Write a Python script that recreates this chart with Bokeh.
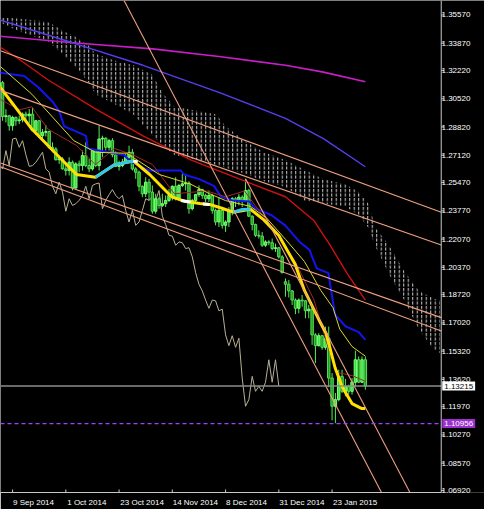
from bokeh.plotting import figure
from bokeh.models import (Range1d, FixedTicker, PrintfTickFormatter, Span, Label,
                          ColumnDataSource)
from bokeh.embed import file_html
from bokeh.resources import INLINE

# ---------------- data (EURUSD daily, bar index 0 = 2 Sep 2014) ----------------
opens = [1.3130,1.3132,1.3150,1.2945,1.2950,1.2890,1.2940,1.2920,1.2925,1.2960,
         1.2950,1.2960,1.2860,1.2920,1.2830,1.2850,1.2855,1.2760,1.2750,1.2685,
         1.2690,1.2630,1.2620,1.2670,1.2515,1.2660,1.2650,1.2710,1.2650,1.2630,
         1.2740,1.2650,1.2810,1.2815,1.2760,1.2800,1.2715,1.2645,1.2650,1.2670,
         1.2700,1.2730,1.2630,1.2610,1.2525,1.2480,1.2550,1.2490,1.2375,1.2450,
         1.2410,1.2420,1.2440,1.2470,1.2525,1.2450,1.2530,1.2540,1.2545,1.2390,
         1.2440,1.2475,1.2505,1.2470,1.2450,1.2470,1.2380,1.2310,1.2380,1.2290,
         1.2310,1.2380,1.2450,1.2440,1.2460,1.2440,1.2500,1.2345,1.2295,1.2230,
         1.2225,1.2170,1.2190,1.2185,1.2150,1.2155,1.2100,1.1950,1.1935,1.1895,
         1.1840,1.1790,1.1840,1.1835,1.1775,1.1785,1.1630,1.1565,1.1625,1.1555,
         1.1610,1.1370,1.1200,1.1240,1.1380,1.1290,1.1320,1.1290,1.1345,1.1480,
         1.1345,1.1480]
highs = [1.3150,1.3160,1.3160,1.2990,1.2955,1.2950,1.2945,1.2950,1.2970,1.2975,
         1.2990,1.3000,1.2925,1.2925,1.2870,1.2895,1.2860,1.2790,1.2760,1.2705,
         1.2700,1.2660,1.2700,1.2680,1.2670,1.2680,1.2740,1.2790,1.2690,1.2750,
         1.2745,1.2890,1.2830,1.2820,1.2810,1.2815,1.2735,1.2680,1.2690,1.2720,
         1.2770,1.2750,1.2640,1.2620,1.2530,1.2580,1.2570,1.2530,1.2480,1.2460,
         1.2480,1.2470,1.2510,1.2530,1.2580,1.2540,1.2600,1.2600,1.2555,1.2450,
         1.2480,1.2530,1.2510,1.2480,1.2500,1.2480,1.2390,1.2460,1.2390,1.2320,
         1.2400,1.2460,1.2460,1.2480,1.2470,1.2570,1.2510,1.2350,1.2300,1.2260,
         1.2250,1.2200,1.2200,1.2210,1.2180,1.2160,1.2110,1.1970,1.1960,1.1900,
         1.1850,1.1850,1.1870,1.1840,1.1810,1.1810,1.1640,1.1640,1.1630,1.1680,
         1.1680,1.1400,1.1280,1.1420,1.1420,1.1365,1.1330,1.1370,1.1535,1.1500,
         1.1500,1.1500]
lows = [1.3110,1.3110,1.2920,1.2910,1.2860,1.2860,1.2890,1.2900,1.2910,1.2915,
        1.2905,1.2860,1.2835,1.2815,1.2800,1.2825,1.2750,1.2730,1.2680,1.2660,
        1.2625,1.2590,1.2590,1.2500,1.2510,1.2610,1.2620,1.2640,1.2610,1.2620,
        1.2640,1.2620,1.2700,1.2740,1.2740,1.2700,1.2640,1.2620,1.2640,1.2660,
        1.2690,1.2620,1.2570,1.2495,1.2460,1.2460,1.2440,1.2360,1.2360,1.2390,
        1.2400,1.2400,1.2430,1.2440,1.2440,1.2440,1.2520,1.2500,1.2360,1.2380,
        1.2420,1.2460,1.2450,1.2430,1.2430,1.2360,1.2290,1.2280,1.2270,1.2250,
        1.2280,1.2350,1.2400,1.2410,1.2400,1.2430,1.2340,1.2260,1.2220,1.2210,
        1.2160,1.2160,1.2170,1.2140,1.2130,1.2090,1.2000,1.1860,1.1855,1.1810,
        1.1755,1.1760,1.1800,1.1730,1.1730,1.1570,1.1460,1.1560,1.1540,1.1540,
        1.1315,1.1115,1.1098,1.1230,1.1280,1.1260,1.1270,1.1270,1.1320,1.1340,
        1.1340,1.1300]
closes = [1.3132,1.3150,1.2945,1.2950,1.2890,1.2940,1.2920,1.2925,1.2960,1.2950,
          1.2960,1.2860,1.2920,1.2830,1.2850,1.2855,1.2760,1.2750,1.2685,1.2690,
          1.2630,1.2620,1.2670,1.2515,1.2660,1.2650,1.2710,1.2650,1.2630,1.2740,
          1.2650,1.2810,1.2815,1.2760,1.2800,1.2715,1.2645,1.2650,1.2670,1.2700,
          1.2730,1.2630,1.2610,1.2525,1.2480,1.2550,1.2490,1.2375,1.2450,1.2410,
          1.2420,1.2440,1.2470,1.2525,1.2450,1.2530,1.2540,1.2545,1.2390,1.2440,
          1.2475,1.2505,1.2470,1.2450,1.2470,1.2380,1.2310,1.2380,1.2290,1.2310,
          1.2380,1.2450,1.2440,1.2460,1.2440,1.2500,1.2345,1.2295,1.2230,1.2225,
          1.2170,1.2190,1.2185,1.2150,1.2155,1.2100,1.2005,1.1935,1.1895,1.1840,
          1.1790,1.1840,1.1835,1.1775,1.1785,1.1630,1.1565,1.1625,1.1555,1.1610,
          1.1370,1.1200,1.1240,1.1380,1.1290,1.1320,1.1290,1.1345,1.1480,1.1345,
          1.1480,1.13215]

tick_index = [5, 21, 37, 53, 69, 85, 101]
tick_labels = ["9 Sep 2014", "1 Oct 2014", "23 Oct 2014", "14 Nov 2014",
               "8 Dec 2014", "31 Dec 2014", "23 Jan 2015"]
price_ticks = [1.35570, 1.33870, 1.32220, 1.30520, 1.28820, 1.27120, 1.25470,
               1.23770, 1.22070, 1.20370, 1.18720, 1.17020, 1.15320, 1.13620,
               1.11970, 1.10270, 1.08570, 1.06920]
last_price = 1.13215
low_mark = 1.10956

# Ichimoku cloud (shifted 26 bars ahead)
cloud_x = [1.4, 7.1, 15.6, 20.5, 24.2, 27.9, 29.9, 35.6, 41.3, 47.1, 49.9, 53.6,
           63.3, 66.2, 69.0, 75.6, 80.5, 87.0, 92.7, 98.4, 105.0, 109.0, 111.9,
           114.1, 118.4, 122.7, 127.0, 131.3, 133.3]
cloud_top = [1.3545, 1.3534, 1.3516, 1.3458, 1.3423, 1.3371, 1.3324, 1.3283, 1.3254,
             1.3196, 1.3091, 1.3004, 1.2969, 1.2957, 1.2887, 1.2788, 1.2730, 1.2684,
             1.2625, 1.2567, 1.2538, 1.2491, 1.2422, 1.2276, 1.2160, 1.2014, 1.1898,
             1.1851, 1.1839]
cloud_bot = [1.3510, 1.3458, 1.3400, 1.3312, 1.3237, 1.3149, 1.3080, 1.3021, 1.2957,
             1.2829, 1.2771, 1.2713, 1.2672, 1.2654, 1.2637, 1.2596, 1.2555, 1.2521,
             1.2439, 1.2422, 1.2404, 1.2352, 1.2276, 1.2160, 1.1985, 1.1839, 1.1665,
             1.1548, 1.1519]

ma_slow_x = [0, 24.2, 47.1, 67.0, 87.0, 98.4, 111.0]
ma_slow_y = [1.3431, 1.3388, 1.3353, 1.3307, 1.3254, 1.3213, 1.3155]

ma_mid_x = [0, 24.2, 44.2, 67.0, 87.0, 98.4, 111.0]
ma_mid_y = [1.3534, 1.3382, 1.3254, 1.3091, 1.2934, 1.2812, 1.2643]

ma_red_x = [0, 7.1, 15.6, 29.9, 44.2, 58.5, 75.6, 87.0, 95.6, 100.4, 105.6, 111.0]
ma_red_y = [1.3380, 1.3289, 1.3167, 1.2992, 1.2829, 1.2684, 1.2550, 1.2462, 1.2317,
            1.2171, 1.1997, 1.1839]

kijun_x = [0, 8.5, 12.8, 17.1, 19.1, 20.5, 27.1, 27.6, 38.5, 40.5, 46.2, 55.6, 56.5,
           61.3, 65.6, 67.6, 71.3, 76.2, 77.9, 82.7, 87.0, 91.3, 94.2, 96.4, 99.9,
           100.7, 101.9, 105.0, 109.0, 111.0]
kijun_y = [1.3212, 1.3190, 1.3120, 1.3033, 1.2975, 1.2887, 1.2829, 1.2753, 1.2713,
           1.2672, 1.2620, 1.2620, 1.2596, 1.2567, 1.2526, 1.2462, 1.2439, 1.2433,
           1.2392, 1.2352, 1.2288, 1.2189, 1.2142, 1.2031, 1.2002, 1.1898, 1.1752,
           1.1682, 1.1647, 1.1600]

thick_x = [0, 5.1, 10.8, 17.6, 24.2, 29.9, 35.6, 41.3, 46.2, 52.8, 57.0, 61.3, 64.2,
           67.9, 71.3, 76.5, 80.5, 85.0, 89.9, 92.7, 97.0, 99.3, 101.9, 104.1, 107.0,
           109.8, 111.0]
thick_y = [1.3155, 1.3021, 1.2870, 1.2730, 1.2596, 1.2579, 1.2655, 1.2678, 1.2596,
           1.2462, 1.2433, 1.2422, 1.2416, 1.2393, 1.2369, 1.2387, 1.2323, 1.2229,
           1.2055, 1.1898, 1.1723, 1.1635, 1.1432, 1.1315, 1.1216, 1.1187, 1.1187]
cyan_x = [[29.9, 35.6, 41.3], [71.3, 74.0, 76.5]]
cyan_y = [[1.2579, 1.2655, 1.2678], [1.2369, 1.2385, 1.2387]]
white_x = [[41.3, 42.6], [55.6, 58.5], [62.2, 64.2]]
white_y = [[1.2678, 1.2672], [1.2440, 1.2430], [1.2418, 1.2416]]

thin_yel_x = [0, 10.8, 23.4, 29.9, 39.3, 49.1, 58.5, 64.2, 69.0, 76.5, 81.3, 87.0,
              92.7, 97.6, 101.3, 103.3, 107.0, 109.8, 111.0]
thin_yel_y = [1.3270, 1.3080, 1.2800, 1.2730, 1.2724, 1.2596, 1.2538, 1.2480, 1.2439,
              1.2404, 1.2334, 1.2206, 1.2072, 1.1898, 1.1793, 1.1665, 1.1560, 1.1519,
              1.1502]

tenkan_x = [0, 7.1, 10.8, 15.6, 24.2, 29.9, 35.6, 41.3, 47.1, 53.6, 63.3, 69.0, 74.7,
            78.5, 84.2, 89.9, 95.6, 99.9, 102.7, 107.0, 111.0]
tenkan_y = [1.3062, 1.2986, 1.3004, 1.2870, 1.2771, 1.2655, 1.2753, 1.2713, 1.2655,
            1.2480, 1.2497, 1.2462, 1.2497, 1.2393, 1.2247, 1.2072, 1.1839, 1.1548,
            1.1403, 1.1385, 1.1350]

# manual trend lines: (x0, y0, x1, y1) in bar index / price
trend_lines = [
    (1.375, 1.3342, 133.8, 1.2369),
    (1.375, 1.3103, 133.8, 1.2171),
    (1.375, 1.2666, 133.8, 1.1734),
    (1.375, 1.2643, 133.8, 1.1653),
    (38.49, 1.3644, 115.85, 1.0681),
    (75.0, 1.2570, 124.4, 1.0681),
]

# ---------------- figure ----------------
X0, X_AXIS, X_END = 1.375, 133.8, 146.8   # chart area ends at X_AXIS, price scale beyond
Y0, Y1 = 1.06805, 1.36443
AXIS_COL = "#c8c8c8"
FONT = "Liberation Sans"
LABEL_SHIFT_PER_CHAR = 0.63   # bars; puts each date label's start at its tick

p = figure(width=484, height=509, x_range=Range1d(X0, X_END), y_range=Range1d(Y0, Y1),
           output_backend="svg", toolbar_location=None,
           x_axis_location="below", y_axis_location="right",
           background_fill_color="black", border_fill_color="black",
           min_border_left=0, min_border_top=0, min_border_right=0, min_border_bottom=0)
p.grid.visible = False
p.outline_line_color = None

# cloud
p.varea(x=cloud_x, y1=cloud_bot, y2=cloud_top, fill_alpha=0,
        hatch_pattern="vertical_dash", hatch_color="#d0d0d0", hatch_scale=4.5,
        hatch_weight=1)

# chikou span: close shifted 26 bars back
n = len(closes)
chikou_x = list(range(0, n - 26))
chikou_y = closes[26:]
p.line(chikou_x, chikou_y, line_color="#b8b094", line_width=1)

# candles
idx = list(range(n))
up = [c >= o for o, c in zip(opens, closes)]
src = ColumnDataSource(dict(
    x=idx, o=opens, h=highs, l=lows, c=closes,
    top=[max(o, c) for o, c in zip(opens, closes)],
    bot=[min(o, c) for o, c in zip(opens, closes)],
    fill=["#3be33b" if u else "#1f9a1f" for u in up],
    edge=["#7dff7d" if u else "#55e055" for u in up],
))
p.segment(x0="x", y0="h", x1="x", y1="l", source=src, line_color="#55ee55", line_width=1)
p.vbar(x="x", width=0.72, top="top", bottom="bot", source=src,
       fill_color="fill", line_color="edge", line_width=1)

# indicator lines
p.line(ma_slow_x, ma_slow_y, line_color="#c81ec8", line_width=1.6)
p.line(ma_mid_x, ma_mid_y, line_color="#5a3cf0", line_width=1.4)
p.line(ma_red_x, ma_red_y, line_color="#d01010", line_width=1.4)
p.line(kijun_x, kijun_y, line_color="#1414f0", line_width=2)
p.line(tenkan_x, tenkan_y, line_color="#9a2a2a", line_width=1)
p.line(thin_yel_x, thin_yel_y, line_color="#d8d830", line_width=1)
p.line(thick_x, thick_y, line_color="#ffe000", line_width=3)
p.multi_line(cyan_x, cyan_y, line_color="#30c8f0", line_width=3)
p.multi_line(white_x, white_y, line_color="#ffffff", line_width=3)

# trend lines
p.segment(x0=[t[0] for t in trend_lines], y0=[t[1] for t in trend_lines],
          x1=[t[2] for t in trend_lines], y1=[t[3] for t in trend_lines],
          line_color="#eea080", line_width=1.1)

# price lines (end at the price scale)
p.segment(x0=[X0], y0=[last_price], x1=[X_AXIS], y1=[last_price],
          line_color="#8c8c8c", line_width=1.5)
p.segment(x0=[X0], y0=[low_mark], x1=[X_AXIS], y1=[low_mark],
          line_color="#a040ff", line_width=1.2, line_dash="4 3")

# price scale line and its tick marks
p.add_layout(Span(location=X_AXIS, dimension="height", line_color=AXIS_COL, line_width=1))
p.segment(x0=[X_AXIS] * len(price_ticks), y0=price_ticks,
          x1=[X_AXIS + 0.9] * len(price_ticks), y1=price_ticks,
          line_color=AXIS_COL, line_width=1)

# time tick marks (drawn at the true bar positions)
p.segment(x0=tick_index, y0=[Y0] * len(tick_index), x1=tick_index,
          y1=[Y0 + 0.0018] * len(tick_index), line_color=AXIS_COL, line_width=1)

# y axis: labels drawn into the price-scale column
ax = p.yaxis[0]
ax.ticker = FixedTicker(ticks=price_ticks)
ax.formatter = PrintfTickFormatter(format="%.5f")
ax.axis_line_color = None
ax.major_tick_line_color = None
ax.major_tick_out = 2
ax.major_tick_in = 0
ax.minor_tick_line_color = None
ax.major_label_text_color = "#ffffff"
ax.major_label_text_font = FONT
ax.major_label_text_font_size = "8px"
ax.major_label_standoff = -45
ax.axis_label_standoff = 0

# x axis: labels centred so that each one starts at its bar
label_pos = [round(i + LABEL_SHIFT_PER_CHAR * len(s), 2) for i, s in zip(tick_index, tick_labels)]
bx = p.xaxis[0]
bx.ticker = FixedTicker(ticks=label_pos)
bx.major_label_overrides = {pos: s for pos, s in zip(label_pos, tick_labels)}
bx.bounds = (X0, X_AXIS)
bx.axis_line_color = AXIS_COL
bx.major_tick_line_color = None
bx.major_tick_out = 0
bx.major_tick_in = 0
bx.minor_tick_line_color = None
bx.major_label_text_color = "#ffffff"
bx.major_label_text_font = FONT
bx.major_label_text_font_size = "8px"
bx.major_label_standoff = 5
bx.axis_label_standoff = 0

# price tags on the scale
p.add_layout(Label(x=X_AXIS, y=last_price, text=f"{last_price:.5f}", x_offset=1,
                   text_baseline="middle", text_align="left", text_color="black",
                   text_font=FONT, text_font_size="8px",
                   background_fill_color="white", padding=2))
p.add_layout(Label(x=X_AXIS, y=low_mark, text=f"{low_mark:.5f}", x_offset=1,
                   text_baseline="middle", text_align="left", text_color="white",
                   text_font=FONT, text_font_size="8px",
                   background_fill_color="#9b30d0", padding=2))

open("out.html", "w").write(file_html(p, INLINE))
